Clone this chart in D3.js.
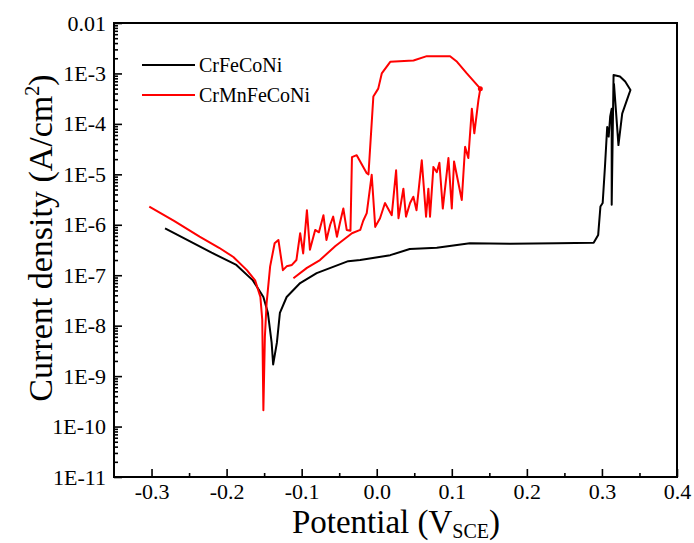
<!DOCTYPE html>
<html>
<head>
<meta charset="utf-8">
<script src="https://cdn.jsdelivr.net/npm/d3@7"></script>
</head>
<body style="margin:0; background:#fff">
<div id="chart"></div>
<script>
// tick values and labels
var xTicks = [-0.3, -0.2, -0.1, 0.0, 0.1, 0.2, 0.3, 0.4];
var xTickLabels = ["-0.3", "-0.2", "-0.1", "0.0", "0.1", "0.2", "0.3", "0.4"];
var yTicks = [1e-2, 1e-3, 1e-4, 1e-5, 1e-6, 1e-7, 1e-8, 1e-9, 1e-10, 1e-11];
var yTickLabels = ["0.01", "1E-3", "1E-4", "1E-5", "1E-6", "1E-7", "1E-8", "1E-9", "1E-10", "1E-11"];

var seriesNames = ["CrFeCoNi", "CrMnFeCoNi"];

// [potential V, current density A/cm2]
var crFeCoNi = [
  [-0.282, 8.5e-7], [-0.25, 4.8e-7], [-0.22, 2.8e-7], [-0.187, 1.6e-7], [-0.165, 7.9e-8],
  [-0.151, 3.7e-8], [-0.145, 1.8e-8], [-0.140, 4.6e-9], [-0.138, 1.7e-9], [-0.133, 4.6e-9],
  [-0.129, 1.8e-8], [-0.120, 3.7e-8], [-0.102, 7.0e-8], [-0.080, 1.1e-7], [-0.038, 1.9e-7],
  [-0.022, 2.0e-7], [0.018, 2.5e-7], [0.044, 3.3e-7], [0.080, 3.5e-7], [0.124, 4.3e-7],
  [0.178, 4.2e-7], [0.240, 4.3e-7], [0.289, 4.4e-7], [0.295, 6.3e-7], [0.298, 2.3e-6],
  [0.301, 2.7e-6], [0.304, 1.4e-5], [0.307, 8.7e-5], [0.309, 5.6e-5], [0.311, 1.4e-4],
  [0.313, 2.0e-4], [0.313, 2.5e-6], [0.3155, 9.3e-4], [0.324, 8.7e-4], [0.331, 6.9e-4],
  [0.338, 4.7e-4], [0.335, 3.5e-4], [0.327, 1.6e-4], [0.322, 3.8e-5], [0.318, 2.5e-4],
  [0.316, 6.3e-4]
];

var crMnFeCoNi = [
  [-0.303, 2.3e-6], [-0.27, 1.2e-6], [-0.236, 5.8e-7], [-0.210, 3.5e-7], [-0.191, 2.3e-7],
  [-0.173, 1.26e-7], [-0.162, 7.9e-8], [-0.155, 3.7e-8], [-0.1525, 1.3e-8], [-0.151, 2.1e-10],
  [-0.149, 6.0e-9], [-0.1467, 2.8e-8], [-0.142, 1.5e-7], [-0.136, 4.3e-7], [-0.131, 5.0e-7],
  [-0.125, 1.26e-7], [-0.120, 1.5e-7], [-0.113, 1.6e-7], [-0.107, 2.0e-7], [-0.102, 6.8e-7],
  [-0.098, 2.7e-7], [-0.093, 1.95e-6], [-0.089, 3.2e-7], [-0.082, 7.9e-7], [-0.077, 7.1e-7],
  [-0.071, 1.55e-6], [-0.067, 5.0e-7], [-0.062, 1.0e-6], [-0.058, 1.45e-6], [-0.053, 5.8e-7],
  [-0.049, 1.1e-6], [-0.0445, 2.1e-6], [-0.040, 7.9e-7], [-0.035, 7.6e-7], [-0.033, 2.2e-5],
  [-0.0267, 2.4e-5], [-0.0133, 1.05e-5], [-0.011, 1.0e-5], [-0.0045, 3.5e-4], [0.002, 5.0e-4],
  [0.0067, 1.0e-3], [0.018, 1.7e-3], [0.049, 1.8e-3], [0.0667, 2.2e-3], [0.0977, 2.2e-3],
  [0.107, 1.7e-3], [0.120, 1.0e-3], [0.138, 5.0e-4],
  // reverse scan
  [0.1355, 3.0e-4], [0.130, 6.5e-5], [0.1267, 2.0e-4], [0.122, 2.1e-5], [0.1177, 3.5e-5],
  [0.1133, 3.1e-6], [0.103, 1.8e-5], [0.100, 2.1e-6], [0.0955, 2.1e-5], [0.088, 2.1e-6],
  [0.0835, 1.7e-5], [0.080, 1.1e-5], [0.0755, 1.4e-5], [0.071, 1.45e-6], [0.0688, 5.2e-6],
  [0.0657, 1.45e-6], [0.060, 1.9e-5], [0.053, 1.95e-6], [0.0488, 3.6e-6], [0.0444, 2.7e-6],
  [0.039, 1.45e-6], [0.0355, 5.2e-6], [0.029, 1.35e-6], [0.0258, 1.2e-5], [0.020, 1.55e-6],
  [0.011, 2.7e-6], [0.0044, 1.35e-6], [-0.002, 9.1e-7], [-0.0067, 9.8e-6], [-0.0133, 1.7e-6],
  [-0.018, 1.2e-6], [-0.022, 7.9e-7], [-0.033, 6.8e-7], [-0.055, 3.8e-7], [-0.0756, 2.0e-7],
  [-0.093, 1.4e-7], [-0.111, 8.7e-8]
];

var width = 694, height = 543;
var margin = { top: 23, right: 17, bottom: 66, left: 114 };
var serif = "'Liberation Serif'";

var svg = d3.select("#chart")
    .append("svg")
    .attr("width", width)
    .attr("height", height);

var x = d3.scaleLinear()
    .domain([-0.35, 0.4])
    .range([margin.left, width - margin.right]);

var y = d3.scaleLog()
    .domain([1e-11, 1e-2])
    .range([height - margin.bottom, margin.top]);

var minorY = [];
for (var e = -11; e < -2; e++) {
    for (var m = 2; m < 10; m++) minorY.push(m * Math.pow(10, e));
}
var minorX = [-0.25, -0.15, -0.05, 0.05, 0.15, 0.25, 0.35];

// x axis
svg.append("g")
    .attr("transform", "translate(0," + y(1e-11) + ")")
    .call(d3.axisBottom(x).tickValues(minorX).tickSize(-4).tickFormat(""))
    .call(g => g.select(".domain").remove());
var gx = svg.append("g")
    .attr("transform", "translate(0," + y(1e-11) + ")")
    .call(d3.axisBottom(x).tickValues(xTicks).tickSize(-8).tickPadding(6)
        .tickFormat((d, i) => xTickLabels[i]));
gx.select(".domain").remove();
gx.selectAll("text")
    .style("font-family", serif)
    .style("font-size", "22px")
    .attr("fill", "#000");

// y axis
svg.append("g")
    .attr("transform", "translate(" + x(-0.35) + ",0)")
    .call(d3.axisLeft(y).tickValues(minorY).tickSize(-4).tickFormat(""))
    .call(g => g.select(".domain").remove());
var gy = svg.append("g")
    .attr("transform", "translate(" + x(-0.35) + ",0)")
    .call(d3.axisLeft(y).tickValues(yTicks).tickSize(-8).tickPadding(8)
        .tickFormat((d, i) => yTickLabels[i]));
gy.select(".domain").remove();
gy.selectAll("text")
    .style("font-family", serif)
    .style("font-size", "22px")
    .attr("fill", "#000");
svg.selectAll(".tick line").attr("stroke", "#000").attr("stroke-width", 1.6);

// frame
svg.append("rect")
    .attr("x", x(-0.35))
    .attr("y", y(1e-2))
    .attr("width", x(0.4) - x(-0.35))
    .attr("height", y(1e-11) - y(1e-2))
    .attr("fill", "none")
    .attr("stroke", "#000")
    .attr("stroke-width", 2);

var line = d3.line()
    .x(d => x(d[0]))
    .y(d => y(d[1]));

svg.append("path")
    .datum(crFeCoNi)
    .attr("d", line)
    .attr("fill", "none")
    .attr("stroke", "#000")
    .attr("stroke-width", 2)
    .attr("stroke-linejoin", "round");

svg.append("path")
    .datum(crMnFeCoNi)
    .attr("d", line)
    .attr("fill", "none")
    .attr("stroke", "#ff0000")
    .attr("stroke-width", 2)
    .attr("stroke-linejoin", "round");

var redEnd = crMnFeCoNi[47];
svg.append("circle")
    .attr("cx", x(redEnd[0]))
    .attr("cy", y(redEnd[1]))
    .attr("r", 2.5)
    .attr("fill", "#ff0000");

// legend
var colors = ["#000", "#ff0000"];
var legend = svg.append("g");
seriesNames.forEach(function (name, i) {
    var ly = 65 + i * 30;
    legend.append("line")
        .attr("x1", 142).attr("x2", 195)
        .attr("y1", ly).attr("y2", ly)
        .attr("stroke", colors[i])
        .attr("stroke-width", 2);
    legend.append("text")
        .attr("x", 199)
        .attr("y", ly + 7)
        .style("font-family", serif)
        .style("font-size", "20px")
        .text(name);
});

// axis titles
var xt = svg.append("text")
    .attr("x", 396)
    .attr("y", 533)
    .attr("text-anchor", "middle")
    .style("font-family", serif)
    .style("font-size", "33px");
xt.append("tspan").text("Potential (V");
xt.append("tspan").style("font-size", "20px").attr("dy", 5).text("SCE");
xt.append("tspan").attr("dy", -5).text(")");

var yt = svg.append("text")
    .attr("transform", "translate(52,238) rotate(-90)")
    .attr("text-anchor", "middle")
    .style("font-family", serif)
    .style("font-size", "34px");
yt.append("tspan").text("Current density (A/cm");
yt.append("tspan").style("font-size", "20px").attr("dy", -13).text("2");
yt.append("tspan").attr("dy", 13).text(")");
</script>
</body>
</html>
